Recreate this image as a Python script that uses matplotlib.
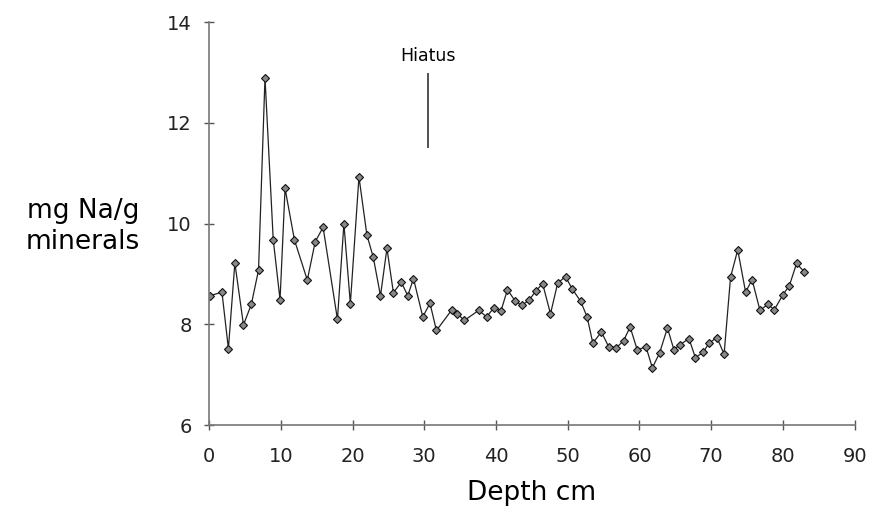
import matplotlib
matplotlib.use('Agg')
import matplotlib.pyplot as plt
import numpy as np

plt.rcParams['font.family'] = 'DejaVu Sans'

# depth (cm) and sodium content (mg Na / g minerals)
depth = [0.1, 1.8, 2.7, 3.6, 4.8, 5.9, 6.9, 7.8, 8.95, 9.9,
         10.6, 11.9, 13.7, 14.8, 15.9, 17.9, 18.8, 19.7, 20.9, 22.0,
         22.9, 23.9, 24.8, 25.7, 26.8, 27.7, 28.5, 29.8, 30.8, 31.7,
         33.8, 34.6, 35.6, 37.6, 38.7, 39.7, 40.7, 41.6, 42.7, 43.6,
         44.6, 45.6, 46.5, 47.6, 48.6, 49.7, 50.6, 51.8, 52.7, 53.5,
         54.7, 55.7, 56.8, 57.8, 58.7, 59.7, 60.9, 61.8, 62.8, 63.9,
         64.8, 65.7, 66.9, 67.8, 68.9, 69.7, 70.8, 71.8, 72.7, 73.7,
         74.8, 75.7, 76.8, 77.9, 78.8, 80.0, 80.9, 81.9, 83.0]
na = [8.57, 8.64, 7.52, 9.22, 7.99, 8.40, 9.08, 12.9, 9.68, 8.49,
      10.70, 9.68, 8.88, 9.64, 9.93, 8.10, 10.0, 8.41, 10.93, 9.78,
      9.33, 8.57, 9.51, 8.63, 8.84, 8.57, 8.91, 8.15, 8.42, 7.88,
      8.28, 8.21, 8.08, 8.28, 8.15, 8.33, 8.27, 8.69, 8.46, 8.38,
      8.48, 8.67, 8.81, 8.21, 8.82, 8.95, 8.71, 8.46, 8.15, 7.63,
      7.85, 7.56, 7.54, 7.68, 7.95, 7.49, 7.56, 7.14, 7.43, 7.93,
      7.50, 7.60, 7.72, 7.34, 7.45, 7.63, 7.74, 7.41, 8.94, 9.48,
      8.64, 8.89, 8.28, 8.40, 8.29, 8.59, 8.77, 9.21, 9.04]

hiatus_depth = 30.5
hiatus_span = (11.5, 13.0)

fig = plt.figure(figsize=(8.82, 5.16), dpi=100)
ax = fig.add_axes([0.237, 0.176, 0.732, 0.781])

ax.plot(depth, na, color='#222222', lw=0.9, marker='D', ms=4.5,
        mfc='#888888', mec='#111111', mew=0.8)

ax.vlines(hiatus_depth, *hiatus_span, color='#333333', lw=1.2)
ax.text(hiatus_depth, 13.32, 'Hiatus', ha='center', va='center', fontsize=12.5)

ax.set_xlim(0, 90)
ax.set_ylim(6, 14)
ax.set_xticks(np.arange(0, 91, 10))
ax.set_yticks([6, 8, 10, 12, 14])

for s in ['top', 'right']:
    ax.spines[s].set_visible(False)
for s in ['left', 'bottom']:
    ax.spines[s].set_color('#777777')
    ax.spines[s].set_linewidth(1.2)

ax.tick_params(direction='inout', length=7, width=1, color='#555555',
               labelsize=14, pad=9, labelcolor='#222222')
ax.tick_params(axis='x', pad=12)

ax.set_xlabel('Depth cm', fontsize=19, labelpad=10)
fig.text(0.094, 0.562, 'mg Na/g\nminerals', ha='center', va='center',
         fontsize=19, linespacing=1.25)

fig.savefig('out.png', dpi=100)
